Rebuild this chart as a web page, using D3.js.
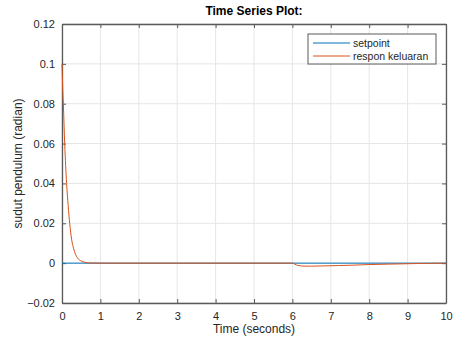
<!DOCTYPE html>
<html>
<head>
<meta charset="utf-8">
<script src="https://cdn.jsdelivr.net/npm/d3@7"></script>
<style>
  body { margin: 0; background: #fff; }
  text { font-family: "Liberation Sans", Arial, sans-serif; }
</style>
</head>
<body>
<svg id="chart"></svg>
<script>
// data
const timeSet = [0, 10];
const setpoint = [0, 0];
const timeResp = [0, 0.015, 0.035, 0.07, 0.12, 0.16, 0.2, 0.25, 0.3, 0.35, 0.4, 0.5, 0.6, 0.7, 1, 3, 6, 6.05, 6.1, 6.2, 6.3, 6.5, 6.8, 7.2, 7.6, 8, 8.5, 9, 9.5, 10];
const respon = [0.1, 0.09, 0.08, 0.06, 0.04, 0.029, 0.02, 0.012, 0.0075, 0.0045, 0.0027, 0.0011, 0.0004, 0.0001, 0, 0, 0, -0.0004, -0.0009, -0.0013, -0.0015, -0.0015, -0.0014, -0.0012, -0.001, -0.0007, -0.0005, -0.0003, -0.0001, 0];
const xTicks = [0, 1, 2, 3, 4, 5, 6, 7, 8, 9, 10];
const yTicks = [-0.02, 0, 0.02, 0.04, 0.06, 0.08, 0.1, 0.12];

const width = 454;
const height = 340;
const margin = { top: 24, right: 8, bottom: 37, left: 62 };

const svg = d3.select('#chart')
  .attr('width', width)
  .attr('height', height);

const x = d3.scaleLinear()
  .domain([0, 10])
  .range([margin.left, width - margin.right]);

const y = d3.scaleLinear()
  .domain([-0.02, 0.12])
  .range([height - margin.bottom, margin.top]);

// grid
svg.append('g')
  .selectAll('line.vx')
  .data(xTicks)
  .join('line')
    .attr('x1', d => x(d)).attr('x2', d => x(d))
    .attr('y1', y(0.12)).attr('y2', y(-0.02))
    .attr('stroke', '#e6e6e6');
svg.append('g')
  .selectAll('line.hy')
  .data(yTicks)
  .join('line')
    .attr('x1', x(0)).attr('x2', x(10))
    .attr('y1', d => y(d)).attr('y2', d => y(d))
    .attr('stroke', '#e6e6e6');

// axes (ticks inward, matlab style)
const fmt = d => d3.format('')(+d.toFixed(2));
svg.append('g')
  .attr('transform', `translate(0,${y(-0.02)})`)
  .call(d3.axisBottom(x).tickValues(xTicks).tickSizeInner(-4).tickSizeOuter(0).tickPadding(9).tickFormat(fmt))
  .call(g => g.selectAll('text').attr('font-size', '11px').attr('fill', '#262626'));
svg.append('g')
  .attr('transform', `translate(${x(0)},0)`)
  .call(d3.axisLeft(y).tickValues(yTicks).tickSizeInner(-4).tickSizeOuter(0).tickPadding(7).tickFormat(fmt))
  .call(g => g.selectAll('text').attr('font-size', '11px').attr('fill', '#262626'));
svg.append('g')
  .attr('transform', `translate(0,${y(0.12)})`)
  .call(d3.axisTop(x).tickValues(xTicks).tickSizeInner(-4).tickSizeOuter(0).tickFormat(''));
svg.append('g')
  .attr('transform', `translate(${x(10)},0)`)
  .call(d3.axisRight(y).tickValues(yTicks).tickSizeInner(-4).tickSizeOuter(0).tickFormat(''));
svg.selectAll('.domain, .tick line').attr('stroke', '#5a5a5a');
svg.selectAll('.domain').attr('stroke-width', 1.3);

// lines
const line = d3.line().x(d => x(d[0])).y(d => y(d[1]));
svg.append('path')
  .datum(d3.zip(timeSet, setpoint))
  .attr('fill', 'none')
  .attr('stroke', '#0072BD')
  .attr('stroke-width', 1)
  .attr('d', line);
svg.append('path')
  .datum(d3.zip(timeResp, respon))
  .attr('fill', 'none')
  .attr('stroke', '#D95319')
  .attr('stroke-width', 1)
  .attr('d', d3.line().curve(d3.curveMonotoneX).x(d => x(d[0])).y(d => y(d[1])));

// titles
svg.append('text')
  .attr('x', (x(0) + x(10)) / 2).attr('y', 15)
  .attr('text-anchor', 'middle')
  .attr('font-size', '12px').attr('font-weight', 'bold')
  .text('Time Series Plot:');
svg.append('text')
  .attr('x', (x(0) + x(10)) / 2).attr('y', 333)
  .attr('text-anchor', 'middle')
  .attr('font-size', '12px').attr('fill', '#262626')
  .text('Time (seconds)');
svg.append('text')
  .attr('transform', `translate(22,${(y(0.12) + y(-0.02)) / 2}) rotate(-90)`)
  .attr('text-anchor', 'middle')
  .attr('font-size', '12px').attr('fill', '#262626')
  .text('sudut pendulum (radian)');

// legend
const legendNames = ['setpoint', 'respon keluaran'];
const legendColors = ['#0072BD', '#D95319'];
const lg = svg.append('g').attr('transform', 'translate(308,34)');
lg.append('rect')
  .attr('width', 128).attr('height', 30)
  .attr('fill', '#fff').attr('stroke', '#5a5a5a');
legendNames.forEach((n, i) => {
  lg.append('line')
    .attr('x1', 5).attr('x2', 42)
    .attr('y1', 9 + i * 13).attr('y2', 9 + i * 13)
    .attr('stroke', legendColors[i]);
  lg.append('text')
    .attr('x', 45).attr('y', 13 + i * 13)
    .attr('font-size', '10.5px').attr('fill', '#262626')
    .text(n);
});
</script>
</body>
</html>
